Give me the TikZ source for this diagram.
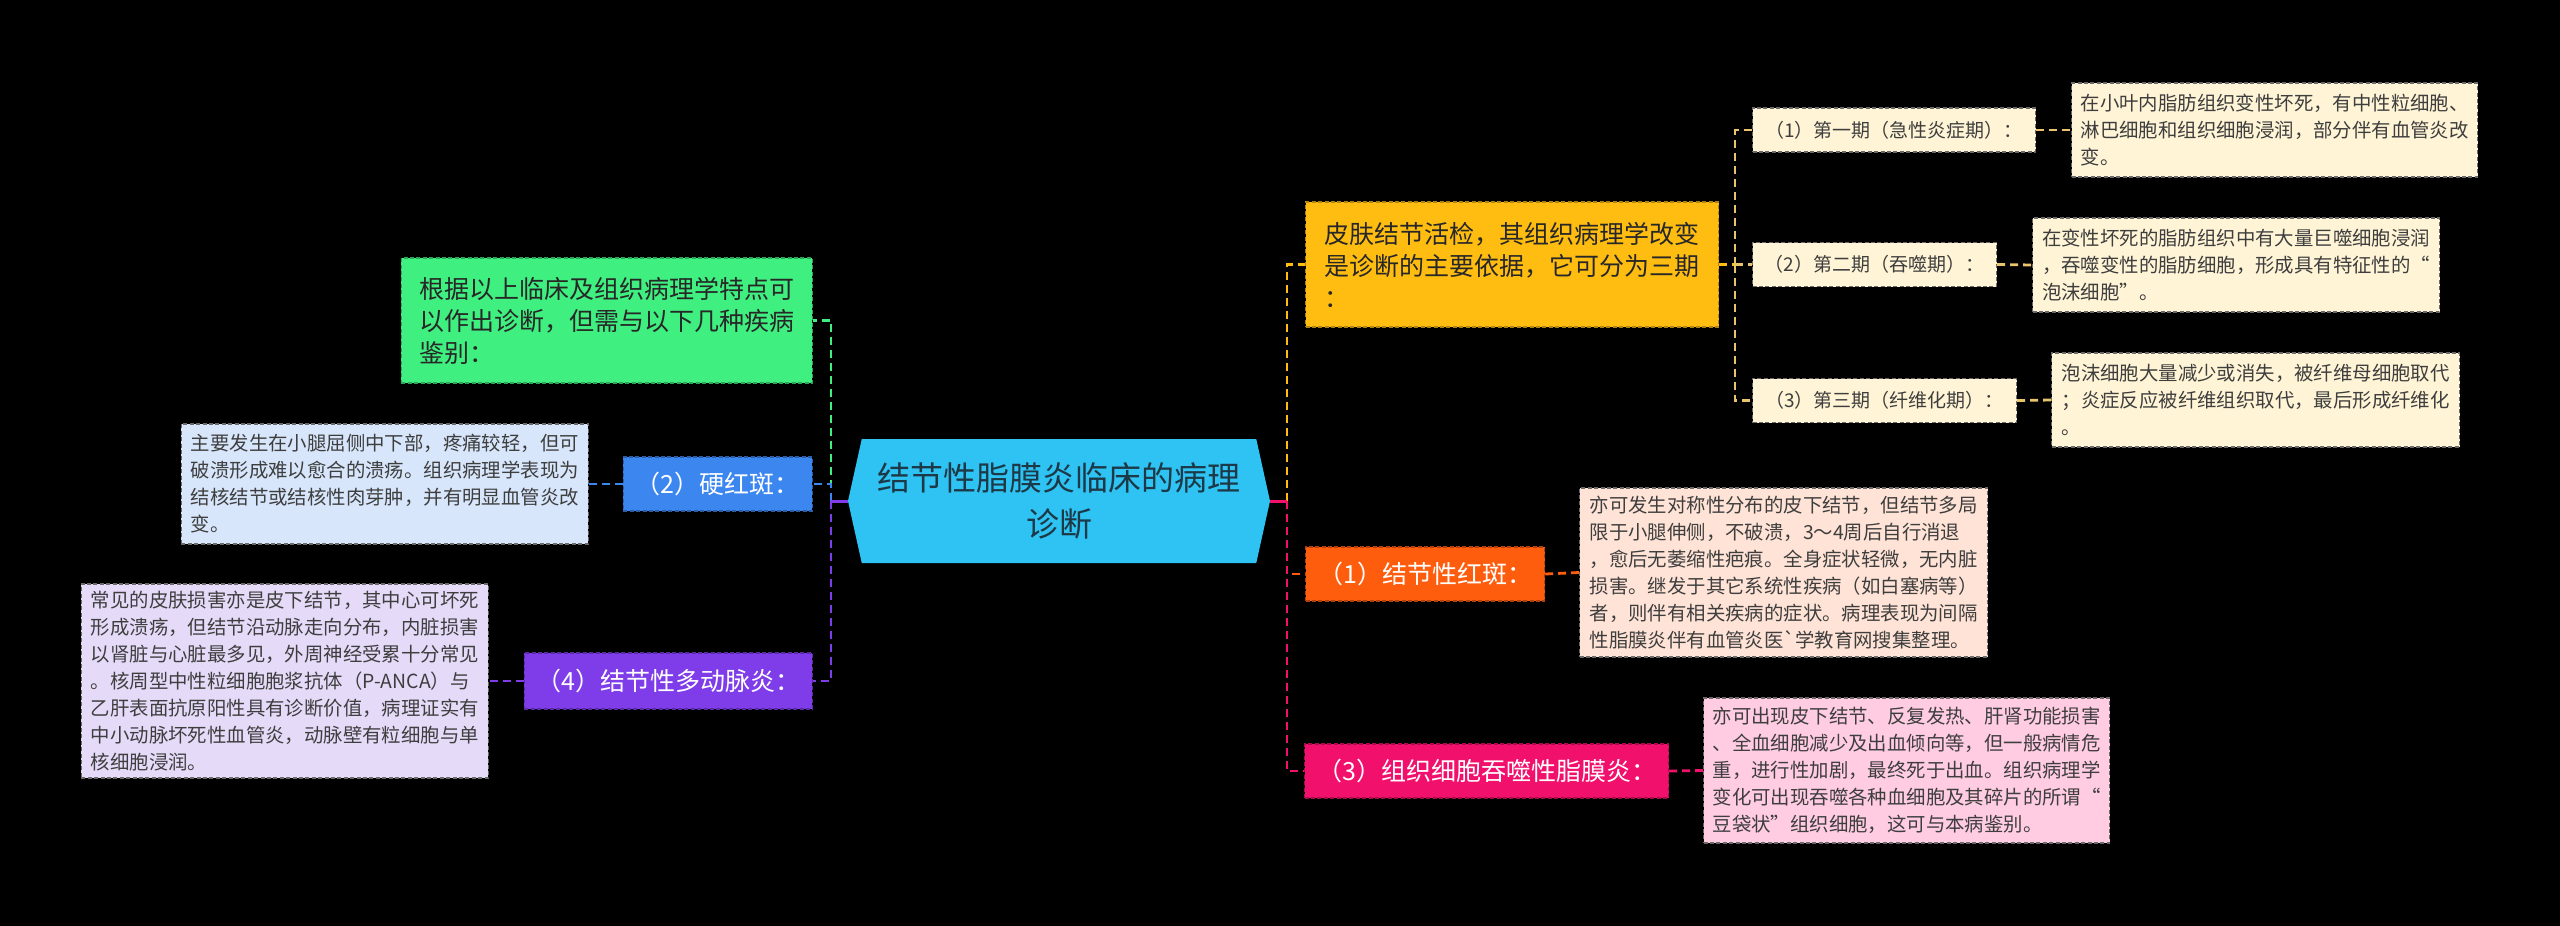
\documentclass[tikz,border=0pt]{standalone}
\usepackage{fontspec}
\setmainfont{Noto Sans CJK SC}
\newfontfamily\rawfont{Noto Sans CJK SC}
\usetikzlibrary{positioning, shapes.symbols}
\definecolor{color_canvas}{HTML}{000000}
\definecolor{color_hub}{HTML}{2EC3F3}
\definecolor{color_hub_text}{HTML}{1D3846}
\definecolor{color_yellow}{HTML}{FFBD12}
\definecolor{color_stage}{HTML}{E8C46C}
\definecolor{color_cream}{HTML}{FFF4D6}
\definecolor{color_orange}{HTML}{FF5D0E}
\definecolor{color_peach}{HTML}{FFE3D6}
\definecolor{color_pink}{HTML}{F2106D}
\definecolor{color_rose}{HTML}{FFCCE1}
\definecolor{color_green}{HTML}{3FEF80}
\definecolor{color_blue}{HTML}{3C86F0}
\definecolor{color_sky}{HTML}{D7E6FB}
\definecolor{color_purple}{HTML}{7F3DEA}
\definecolor{color_lilac}{HTML}{E6DAF9}
\definecolor{color_text_dark}{HTML}{272727}
\definecolor{color_text_soft}{HTML}{3E3E3E}
\definecolor{color_leaf_edge}{HTML}{6A6A6A}
\tikzset{
  border_dash/.style={dash pattern=on 2pt off 1.2pt, line width=0.6pt},
  hub_node/.style={signal, signal to=west and east, signal pointer angle=155, fill=color_hub, text=color_hub_text, font=\fontsize{16.5pt}{23pt}\selectfont, align=center, inner sep=0pt, minimum width=211pt, minimum height=62pt},
  branch_big/.style={draw=#1!70!black, fill=#1, border_dash, text=color_text_dark, font=\fontsize{12.5pt}{16pt}\selectfont, align=left, inner sep=2pt},
  branch_label/.style={draw=#1!70!black, fill=#1, border_dash, text=white, font=\fontsize{12.5pt}{15pt}\selectfont, inner sep=2pt, minimum height=27pt},
  stage_label/.style={draw=color_leaf_edge, fill=color_cream, border_dash, text=color_text_soft, font=\fontsize{9.5pt}{12pt}\selectfont, inner sep=2pt, minimum height=22pt},
  leaf_box/.style={draw=color_leaf_edge, fill=#1, border_dash, text=color_text_soft, font=\fontsize{9.7pt}{13.5pt}\selectfont, align=left, inner sep=2pt},
  stub_line/.style={draw=#1, line width=1.5pt},
  link_line/.style={draw=#1, line width=1.4pt, dash pattern=on 4pt off 2.5pt},
}
\begin{document}
\begin{tikzpicture}[x=0.5pt, y=-0.5pt]
    \path[use as bounding box, fill=color_canvas] (0,0) rectangle (2560,926);
    \node[hub_node] (hub) at (1059,501) {结节性脂膜炎临床的病理\\诊断};
    % right side
    \node[branch_big=color_yellow, anchor=west, minimum width=206.5pt, minimum height=62.5pt]
      (biopsy_box) at (1305,264.5) {皮肤结节活检，其组织病理学改变\\是诊断的主要依据，它可分为三期\\：};
    \node[stage_label, anchor=west, minimum width=141.5pt] (stage_1) at (1752,130) {（1）第一期（急性炎症期）：};
    \node[stage_label, anchor=west, minimum width=122pt] (stage_2) at (1752,264.5) {（2）第二期（吞噬期）：};
    \node[stage_label, anchor=west, minimum width=132pt] (stage_3) at (1752,400.5) {（3）第三期（纤维化期）：};
    \node[leaf_box=color_cream, anchor=west, minimum width=203pt, minimum height=47pt]
      (stage_text_1) at (2071,130) {在小叶内脂肪组织变性坏死，有中性粒细胞、\\淋巴细胞和组织细胞浸润，部分伴有血管炎改\\变。};
    \node[leaf_box=color_cream, anchor=west, minimum width=203.5pt, minimum height=47pt]
      (stage_text_2) at (2032,265) {在变性坏死的脂肪组织中有大量巨噬细胞浸润\\，吞噬变性的脂肪细胞，形成具有特征性的“\\泡沫细胞”。};
    \node[leaf_box=color_cream, anchor=west, minimum width=204pt, minimum height=47pt]
      (stage_text_3) at (2051,400) {泡沫细胞大量减少或消失，被纤维母细胞取代\\；炎症反应被纤维组织取代，最后形成纤维化\\。};
    \node[branch_label=color_orange, anchor=west, minimum width=119.5pt] (erythema_label) at (1305,574) {（1）结节性红斑：};
    \node[leaf_box=color_peach, anchor=west, minimum width=204pt, minimum height=84.5pt]
      (erythema_text) at (1579,572.5) {亦可发生对称性分布的皮下结节，但结节多局\\限于小腿伸侧，不破溃，3～4周后自行消退\\，愈后无萎缩性疤痕。全身症状轻微，无内脏\\损害。继发于其它系统性疾病（如白塞病等）\\者，则伴有相关疾病的症状。病理表现为间隔\\性脂膜炎伴有血管炎医{\rawfont`}学教育网搜集整理。};
    \node[branch_label=color_pink, anchor=west, minimum width=182pt] (histio_label) at (1304,771) {（3）组织细胞吞噬性脂膜炎：};
    \node[leaf_box=color_rose, anchor=west, minimum width=203pt, minimum height=72.5pt]
      (histio_text) at (1703,770.5) {亦可出现皮下结节、反复发热、肝肾功能损害\\、全血细胞减少及出血倾向等，但一般病情危\\重，进行性加剧，最终死于出血。组织病理学\\变化可出现吞噬各种血细胞及其碎片的所谓“\\豆袋状”组织细胞，这可与本病鉴别。};
    % left side
    \node[branch_big=color_green, anchor=east, minimum width=205.5pt, minimum height=62.5pt]
      (diag_note) at (813,320.5) {根据以上临床及组织病理学特点可\\以作出诊断，但需与以下几种疾病\\鉴别：};
    \node[branch_label=color_blue, anchor=east, minimum width=94.5pt] (hard_label) at (813,484) {（2）硬红斑：};
    \node[leaf_box=color_sky, anchor=east, minimum width=203.5pt, minimum height=60pt]
      (hard_text) at (589,484) {主要发生在小腿屈侧中下部，疼痛较轻，但可\\破溃形成难以愈合的溃疡。组织病理学表现为\\结核结节或结核性肉芽肿，并有明显血管炎改\\变。};
    \node[branch_label=color_purple, anchor=east, minimum width=144pt, minimum height=28pt] (pan_label) at (813,681) {（4）结节性多动脉炎：};
    \node[leaf_box=color_lilac, anchor=east, minimum width=203.5pt, minimum height=97pt]
      (pan_text) at (489,681) {常见的皮肤损害亦是皮下结节，其中心可坏死\\形成溃疡，但结节沿动脉走向分布，内脏损害\\以肾脏与心脏最多见，外周神经受累十分常见\\。核周型中性粒细胞胞浆抗体（P-ANCA）与\\乙肝表面抗原阳性具有诊断价值，病理证实有\\中小动脉坏死性血管炎，动脉壁有粒细胞与单\\核细胞浸润。};
    % connectors
    \coordinate (left_joint) at (831,501);
    \coordinate (right_joint) at (1287,501);
    \coordinate (stage_joint) at (1735,264.5);
    \draw[link_line=color_green] (left_joint) |- (diag_note.east);
    \draw[link_line=color_blue] (left_joint) |- (hard_label.east);
    \draw[link_line=color_purple] (left_joint) |- (pan_label.east);
    \draw[stub_line=color_purple] (hub.west) -- (left_joint);
    \draw[link_line=color_blue] (hard_label.west) -- (hard_text.east);
    \draw[link_line=color_purple] (pan_label.west) -- (pan_text.east);
    \draw[link_line=color_yellow] (right_joint) |- (biopsy_box.west);
    \draw[link_line=color_orange] (right_joint) |- (erythema_label.west);
    \draw[link_line=color_pink] (right_joint) |- (histio_label.west);
    \draw[stub_line=color_pink] (hub.east) -- (right_joint);
    \draw[link_line=color_orange] (erythema_label.east) -- (erythema_text.west);
    \draw[link_line=color_pink] (histio_label.east) -- (histio_text.west);
    \draw[link_line=color_yellow] (biopsy_box.east) -- (stage_joint);
    \foreach \i in {1,2,3} {
      \draw[link_line=color_stage] (stage_joint) |- (stage_\i.west);
      \draw[link_line=color_stage] (stage_\i.east) -- (stage_text_\i.west);
    }
\end{tikzpicture}
\end{document}
